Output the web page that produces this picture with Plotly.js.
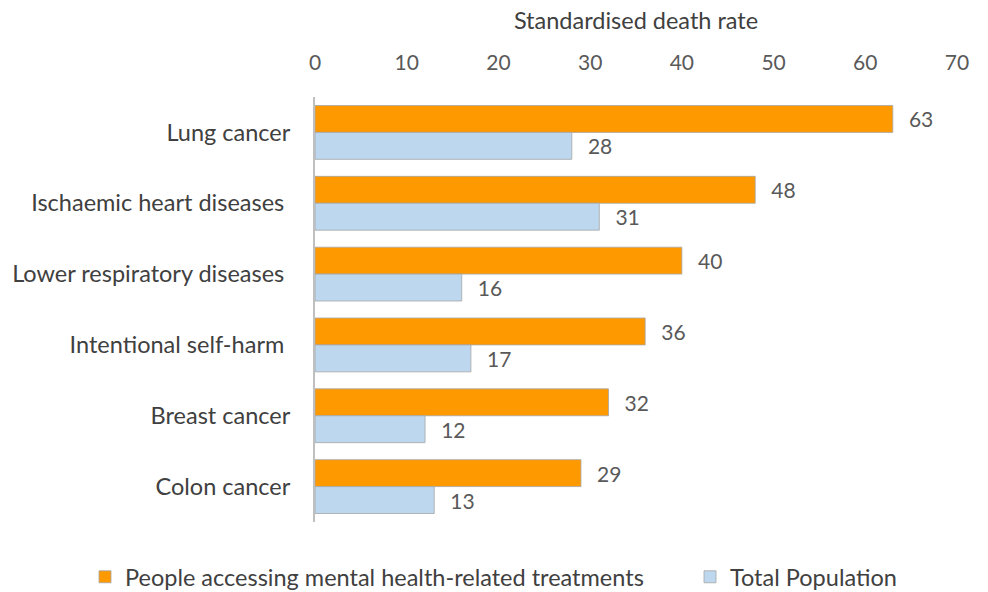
<!DOCTYPE html>
<html>
<head>
<meta charset="utf-8">
<script src="https://cdn.plot.ly/plotly-3.0.1.min.js"></script>
<style>
  html, body { margin: 0; padding: 0; background: #fff; }
  #chart { width: 988px; height: 592px; }
</style>
</head>
<body>
<div id="chart"></div>
<script>
// Causes of death, standardised death rate
const causes = [
  'Lung cancer',
  'Ischaemic heart diseases',
  'Lower respiratory diseases',
  'Intentional self-harm',
  'Breast cancer',
  'Colon cancer'
];
// Axis labels as printed (some carry a trailing space)
const causeLabels = [
  'Lung cancer',
  'Ischaemic heart diseases\u00a0',
  'Lower respiratory diseases\u00a0',
  'Intentional self-harm\u00a0',
  'Breast cancer',
  'Colon cancer'
];
const mentalHealth = [63, 48, 40, 36, 32, 29];
const totalPopulation = [28, 31, 16, 17, 12, 13];
const seriesNames = ['People accessing mental health-related treatments', 'Total Population'];
const xTicks = [0, 10, 20, 30, 40, 50, 60, 70];

const FONT = 'Lato, "Open Sans", "Liberation Sans", sans-serif';
const numFont = { family: FONT, size: 21, color: '#595959' };
const textFont = { family: FONT, size: 23.5, color: '#404040' };

function barTrace(name, values, color, legendId) {
  return {
    type: 'bar',
    orientation: 'h',
    name: name,
    y: causes,
    x: values,
    text: values.map(v => '\u2002\u2009' + v),
    textposition: 'outside',
    cliponaxis: false,
    textfont: numFont,
    marker: { color: color, line: { color: '#A6A6A6', width: 0.8 } },
    legend: legendId,
    hoverinfo: 'x+name'
  };
}

const data = [
  barTrace(seriesNames[0], mentalHealth, '#FF9900', 'legend'),
  barTrace(seriesNames[1], totalPopulation, '#BDD7EE', 'legend2')
];

// one single-row legend box per series, side by side under the plot
function legendBox(left) {
  return {
    orientation: 'h',
    xref: 'container',
    x: left / 988,
    xanchor: 'left',
    y: -0.1294,
    yanchor: 'middle',
    font: textFont,
    itemwidth: 30,
    bgcolor: 'rgba(0,0,0,0)'
  };
}

const layout = {
  width: 988,
  height: 592,
  margin: { l: 315, r: 31, t: 97, b: 70, autoexpand: false },
  paper_bgcolor: '#ffffff',
  plot_bgcolor: '#ffffff',
  barmode: 'group',
  bargap: 0.24,
  bargroupgap: 0,
  font: { family: FONT, color: '#404040' },
  xaxis: {
    side: 'top',
    range: [0, 70],
    tickvals: xTicks,
    showgrid: false,
    zeroline: false,
    showline: false,
    ticks: '',
    ticklabelstandoff: 22,
    tickfont: numFont,
    automargin: false,
    title: { text: 'Standardised death rate', font: textFont, standoff: 12 }
  },
  yaxis: {
    categoryorder: 'array',
    categoryarray: causes,
    tickvals: causes,
    ticktext: causeLabels,
    autorange: 'reversed',
    showgrid: false,
    zeroline: false,
    showline: true,
    linecolor: '#BFBFBF',
    linewidth: 2,
    ticks: '',
    ticklabelstandoff: 18,
    automargin: false,
    tickfont: textFont
  },
  showlegend: true,
  legend: legendBox(85),
  legend2: legendBox(690)
};

Plotly.newPlot('chart', data, layout, { displayModeBar: false, staticPlot: true });
</script>
</body>
</html>
